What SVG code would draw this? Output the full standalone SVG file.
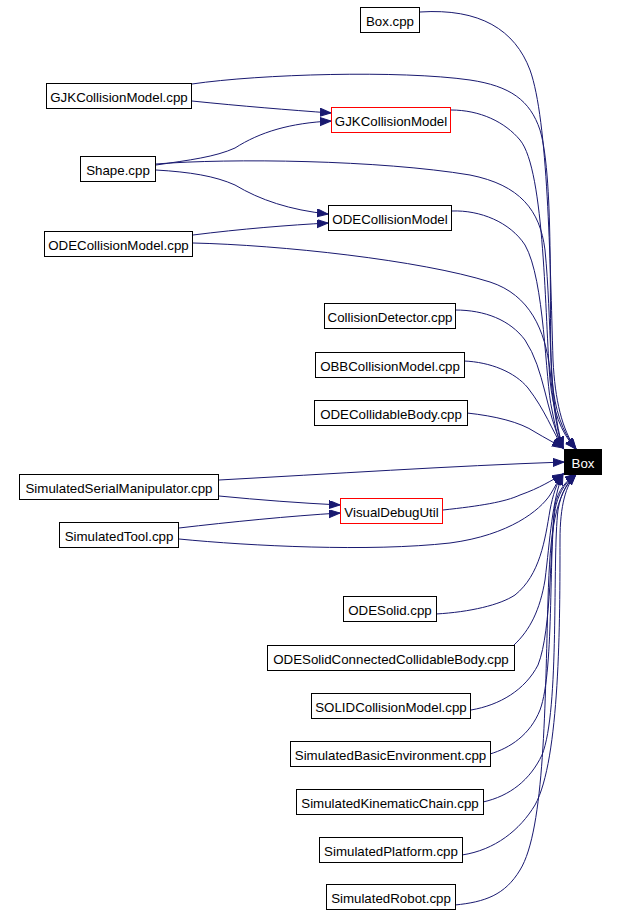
<svg xmlns="http://www.w3.org/2000/svg" width="634" height="915" viewBox="0 0 634 915">
<style>
.n rect{fill:#fff;stroke:#000;stroke-width:1}
.n.red rect{stroke:#ff0000}
.n.root rect{fill:#000;stroke:#000}
.n text{font-family:"Liberation Sans",Arial,sans-serif;font-size:13.3px;text-anchor:middle;fill:#000}
.n.root text{fill:#fff}
#edges path{fill:none;stroke:#191970;stroke-width:1;marker-end:url(#ah)}
</style>
<defs>
<marker id="ah" markerUnits="userSpaceOnUse" markerWidth="13" markerHeight="10" refX="11" refY="4" orient="auto">
<path d="M0,0 L11,4 L0,8 z" fill="#191970" stroke="#191970" stroke-width="1"/>
</marker>
</defs>
<rect width="634" height="915" fill="#fff"/>
<g id="edges">
<path d="M420,12 C480,8 515,30 530,70 C548,120 550,260 553,360 C555,400 562,430 576,449"/>
<path d="M192,84 C260,74 400,70 470,80 C510,86 530,100 540,130 C555,180 548,330 552,380 C555,410 562,432 576,449"/>
<path d="M192,101 C240,106 290,110 331,113"/>
<path d="M451,110 C480,110 505,122 520,140 C545,170 545,320 550,380 C553,410 560,432 576,449"/>
<path d="M156,165 C190,160 215,157 235,148 C260,132 290,123 331,121"/>
<path d="M156,164 C230,158 380,160 470,175 C520,185 540,210 545,250 C552,320 548,400 563,448"/>
<path d="M156,170 C190,172 215,176 235,185 C260,200 290,210 328,214"/>
<path d="M452,211 C480,210 510,222 525,245 C545,280 545,380 552,410 C556,430 558,440 563,448"/>
<path d="M193,235 C240,229 290,225 328,223"/>
<path d="M193,243 C280,245 420,260 490,282 C530,295 545,330 550,370 C553,400 556,430 563,448"/>
<path d="M455,310 C485,310 510,320 525,340 C545,370 545,410 563,448"/>
<path d="M464,361 C490,362 515,372 528,388 C545,410 552,430 563,448"/>
<path d="M467,413 C495,416 520,422 535,432 C545,438 553,442 563,448"/>
<path d="M219,480 C330,474 450,466 564,462"/>
<path d="M219,496 C260,500 300,503 340,505"/>
<path d="M179,528 C230,522 290,516 340,513"/>
<path d="M179,539 C250,546 370,552 450,543 C510,535 540,510 550,495 C555,487 558,480 563,474"/>
<path d="M443,510 C480,506 505,502 520,495 C540,488 552,480 563,474"/>
<path d="M436,614 C470,612 500,605 515,595 C540,575 545,540 550,510 C553,495 556,484 563,474"/>
<path d="M514,645 C530,630 540,610 545,580 C550,540 552,500 563,474"/>
<path d="M471,710 C500,705 525,690 538,665 C552,630 550,540 555,505 C558,490 566,481 576,474"/>
<path d="M490,754 C510,748 530,735 540,710 C555,670 548,540 556,505 C560,490 567,481 576,474"/>
<path d="M483,802 C510,796 530,780 542,755 C560,710 552,560 558,510 C561,492 568,482 576,474"/>
<path d="M462,855 C495,850 520,830 535,805 C560,760 560,620 560,540 C560,505 566,485 576,474"/>
<path d="M455,905 C485,902 505,895 520,870 C545,830 545,700 548,600 C550,530 555,495 576,474"/>
</g>
<g id="n_box_cpp" class="n"><rect x="360.5" y="7.5" width="59" height="25"/><text x="390" y="25.5">Box.cpp</text></g>
<g id="n_gjk_cpp" class="n"><rect x="46.5" y="83.5" width="145" height="25"/><text x="119" y="101.5">GJKCollisionModel.cpp</text></g>
<g id="n_gjk" class="n red"><rect x="331.5" y="107.5" width="119" height="25"/><text x="391" y="125.5">GJKCollisionModel</text></g>
<g id="n_shape_cpp" class="n"><rect x="80.5" y="156.5" width="75" height="25"/><text x="118" y="174.5">Shape.cpp</text></g>
<g id="n_ode" class="n"><rect x="328.5" y="205.5" width="123" height="25"/><text x="390" y="223.5">ODECollisionModel</text></g>
<g id="n_ode_cpp" class="n"><rect x="44.5" y="231.5" width="148" height="25"/><text x="118.5" y="249.5">ODECollisionModel.cpp</text></g>
<g id="n_cd_cpp" class="n"><rect x="324.5" y="303.5" width="131" height="25"/><text x="390" y="321.5">CollisionDetector.cpp</text></g>
<g id="n_obb_cpp" class="n"><rect x="315.5" y="352.5" width="149" height="25"/><text x="390" y="370.5">OBBCollisionModel.cpp</text></g>
<g id="n_odecb_cpp" class="n"><rect x="314.5" y="400.5" width="153" height="25"/><text x="391" y="418.5">ODECollidableBody.cpp</text></g>
<g id="n_box" class="n root"><rect x="564.5" y="449.5" width="37" height="25"/><text x="583" y="467.5">Box</text></g>
<g id="n_ssm_cpp" class="n"><rect x="19.5" y="474.5" width="199" height="25"/><text x="119" y="492.5">SimulatedSerialManipulator.cpp</text></g>
<g id="n_vdu" class="n red"><rect x="340.5" y="498.5" width="102" height="25"/><text x="391.5" y="516.5">VisualDebugUtil</text></g>
<g id="n_st_cpp" class="n"><rect x="59.5" y="522.5" width="119" height="25"/><text x="119" y="540.5">SimulatedTool.cpp</text></g>
<g id="n_odesolid_cpp" class="n"><rect x="343.5" y="596.5" width="93" height="25"/><text x="390" y="614.5">ODESolid.cpp</text></g>
<g id="n_odescc_cpp" class="n"><rect x="267.5" y="645.5" width="247" height="25"/><text x="391" y="663.5">ODESolidConnectedCollidableBody.cpp</text></g>
<g id="n_solid_cpp" class="n"><rect x="311.5" y="693.5" width="159" height="25"/><text x="391" y="711.5">SOLIDCollisionModel.cpp</text></g>
<g id="n_sbe_cpp" class="n"><rect x="290.5" y="741.5" width="200" height="25"/><text x="390.5" y="759.5">SimulatedBasicEnvironment.cpp</text></g>
<g id="n_skc_cpp" class="n"><rect x="296.5" y="789.5" width="187" height="25"/><text x="390" y="807.5">SimulatedKinematicChain.cpp</text></g>
<g id="n_sp_cpp" class="n"><rect x="319.5" y="837.5" width="143" height="25"/><text x="391" y="855.5">SimulatedPlatform.cpp</text></g>
<g id="n_sr_cpp" class="n"><rect x="326.5" y="884.5" width="129" height="25"/><text x="391" y="902.5">SimulatedRobot.cpp</text></g>
</svg>
